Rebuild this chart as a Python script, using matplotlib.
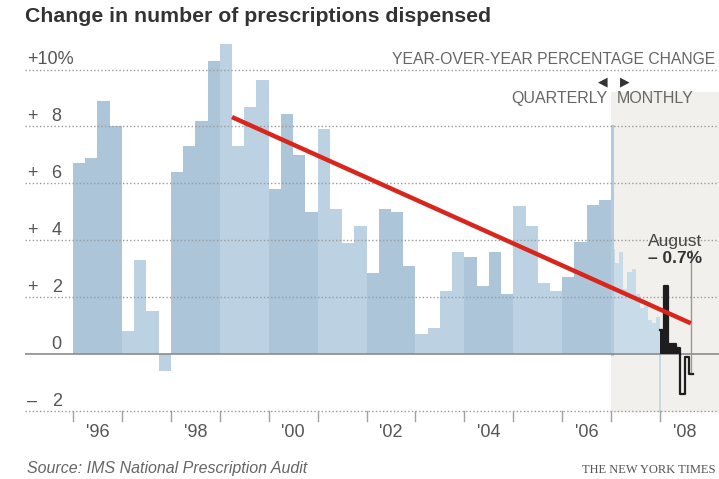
import matplotlib
matplotlib.use('Agg')
import matplotlib.pyplot as plt

# ---------------- data ----------------
quarter_start_year = 1996
quarterly = [6.7, 6.9, 8.9, 8.0,
             0.8, 3.3, 1.5, -0.6,
             6.4, 7.3, 8.2, 10.3,
             10.9, 7.3, 8.7, 9.65,
             5.8, 8.45, 7.0, 5.0,
             7.9, 5.1, 3.9, 4.5,
             2.85, 5.1, 5.0, 3.1,
             0.7, 0.9, 2.2, 3.6,
             3.4, 2.4, 3.6, 2.1,
             5.2, 4.5, 2.5, 2.2,
             2.7, 3.95, 5.25, 5.4]
monthly_2007 = [3.7, 3.2, 3.6, 2.3, 2.9, 3.0, 2.1, 1.6, 1.7, 1.2, 1.1, 1.3]
monthly_2008 = [0.85, 2.4, 0.35, 0.35, 0.2, -1.4, -0.1, -0.7]
trend_x = [1999.25, 2008.63]
trend_y = [8.33, 1.08]
label_years = [1996, 1998, 2000, 2002, 2004, 2006, 2008]
year_labels = ["'96", "'98", "'00", "'02", "'04", "'06", "'08"]
grid_values = [10, 8, 6, 4, 2, -2]
tick_signs = ['+', '+', '+', '+', '', '\u2013']
tick_nums = ['8', '6', '4', '2', '0', '2']
tick_vals = [8, 6, 4, 2, 0, -2]

W, H, DPI = 719, 479, 100
FONT = 'Liberation Sans'
plt.rcParams['font.family'] = [FONT, 'DejaVu Sans']

fig = plt.figure(figsize=(W / DPI, H / DPI), dpi=DPI)
fig.patch.set_facecolor('white')

def fx(px):
    return px / W

def fy(py):
    return 1 - py / H

# axes placement (pixels): left 25, right 719, top 40, bottom 425
ax = fig.add_axes([fx(25), fy(425), fx(719) - fx(25), fy(40) - fy(425)])
ax.set_xlim(1995.019, 2009.205)
ax.set_ylim(-2.496, 11.04)
ax.axis('off')

# shaded monthly region
ax.fill_between([2007.0, 2009.205], -2.05, 9.2, color='#f2f0ec', zorder=0, lw=0)

# quarterly bars, alternating year shades
cols_even = '#acc5d9'
cols_odd = '#bcd2e3'
qx = [quarter_start_year + i * 0.25 for i in range(len(quarterly))]
qc = [cols_even if (int(x) % 2 == 0) else cols_odd for x in qx]
ax.bar(qx, quarterly, width=0.25, align='edge', color=qc, lw=0, zorder=1)

# monthly 2007 bars (light)
mx = [2007 + i / 12 for i in range(len(monthly_2007))]
ax.bar(mx, monthly_2007, width=1 / 12, align='edge', color='#c8dbe9', lw=0, zorder=1)

# divider line between quarterly and monthly
ax.plot([2007.02, 2007.02], [0, 8], color='#b3cbdd', lw=2.2, zorder=2)
ax.plot([2008.0, 2008.0], [-2.0, 0], color='#c3d5e4', lw=1.2, zorder=2)

# gridlines
for v in grid_values:
    ax.plot([1995.019, 2009.205], [v, v], color='#9a9a9a', lw=1.0,
            ls=(0, (1, 1.6)), zorder=3)
ax.plot([1995.019, 2009.205], [0, 0], color='#8c8c8c', lw=1.2, zorder=3)

# year ticks
for yr in range(1996, 2009):
    ax.plot([yr, yr], [-2.0, -2.36], color='#a0a0a0', lw=1.0, zorder=3)

# 2008 monthly black step series
bx = [2008 + i / 12 for i in range(len(monthly_2008))]
pos = [v if v > 0 else 0 for v in monthly_2008]
ax.bar(bx, pos, width=1 / 12, align='edge', color='#1e1e1e', lw=0, zorder=4)
sx = bx + [2008 + len(monthly_2008) / 12]
sy = monthly_2008 + [monthly_2008[-1]]
ax.step(sx, sy, where='post', color='#1e1e1e', lw=1.6, zorder=4)

# August marker line
ax.plot([trend_x[1] + 0.005, trend_x[1] + 0.005], [monthly_2008[-1], 3.65],
        color='#9a9a9a', lw=1.0, zorder=3)

# red trend line
ax.plot(trend_x, trend_y, color='#d8261c', lw=3.2, solid_capstyle='butt', zorder=5)

# y tick labels (above gridlines)
lab_col = '#555555'
FS = 13
ax.text(1995.059, 10.18, '+10%', fontsize=FS, color=lab_col, ha='left',
        va='baseline', zorder=6)
for s, n, v in zip(tick_signs, tick_nums, tick_vals):
    if s:
        ax.text(1995.059, v + 0.18, s, fontsize=FS, color=lab_col, ha='left',
                va='baseline', zorder=6)
    ax.text(1995.77, v + 0.18, n, fontsize=FS, color=lab_col, ha='right',
            va='baseline', zorder=6)

# x labels
for yr, lab in zip(label_years, year_labels):
    ax.text(yr + 0.5, -2.92, lab, fontsize=FS, color=lab_col, ha='center',
            va='baseline', clip_on=False)

# annotations
ann_col = '#666666'
ax.text(2009.13, 10.2, 'YEAR-OVER-YEAR PERCENTAGE CHANGE', fontsize=11.3,
        color=ann_col, ha='right', va='baseline')
ax.text(2006.82, 9.56, '\u25C0', fontsize=9, color='#333333', ha='center',
        va='center', family='DejaVu Sans')
ax.text(2007.27, 9.56, '\u25B6', fontsize=9, color='#333333', ha='center',
        va='center', family='DejaVu Sans')
ax.text(2006.92, 8.82, 'QUARTERLY', fontsize=11.5, color=ann_col, ha='right',
        va='baseline')
ax.text(2007.12, 8.82, 'MONTHLY', fontsize=11.5, color=ann_col, ha='left',
        va='baseline')
ax.text(2008.31, 3.8, 'August', fontsize=12.5, color='#444444', ha='center',
        va='baseline')
ax.text(2008.31, 3.2, '\u2013 0.7%', fontsize=12.5, color='#333333', ha='center',
        va='baseline', fontweight='bold')

# title & footer
fig.text(fx(25), fy(22), 'Change in number of prescriptions dispensed',
         fontsize=15.3, fontweight='bold', color='#333333', ha='left', va='baseline')
fig.text(fx(27), fy(473), 'Source: IMS National Prescription Audit',
         fontsize=11.5, style='italic', color='#666666', ha='left', va='baseline')
fig.text(fx(582), fy(473), 'THE NEW YORK TIMES', fontsize=9,
         family='Liberation Serif', color='#555555', ha='left', va='baseline')

fig.savefig('out.png', dpi=DPI, facecolor='white')
